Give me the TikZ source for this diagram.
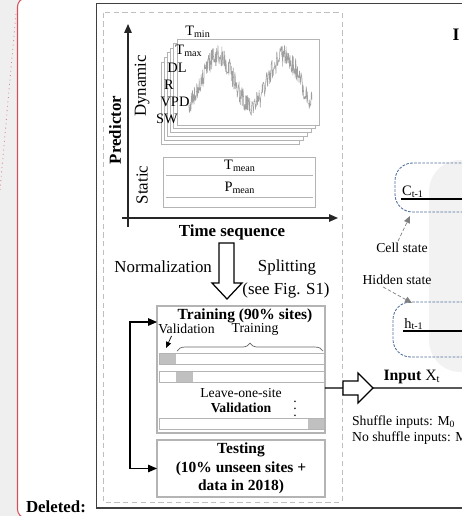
\documentclass[tikz,border=0pt]{standalone}
\usepackage{fontspec}
\setmainfont{Liberation Serif}
\usepackage{tikz}
\usetikzlibrary{arrows.meta,calc,decorations.pathreplacing}
\definecolor{framegray}{HTML}{B4B4B4}
\definecolor{blockgray}{HTML}{C0C0C0}
\definecolor{pagegray}{HTML}{EFEFEF}
\definecolor{balloonred}{HTML}{D2505A}
\definecolor{stateblue}{HTML}{50709F}
\definecolor{panegray}{HTML}{F2F2F2}
\tikzset{
>={Triangle[length=5pt,width=4.2pt]},
big text/.style={font=\fontsize{9.6}{11.5}\selectfont,inner sep=1pt},
bold text/.style={font=\fontsize{9.6}{11.5}\selectfont\bfseries,inner sep=1pt},
box text/.style={font=\fontsize{8.8}{10.5}\selectfont\bfseries,inner sep=1pt},
small text/.style={font=\fontsize{7.8}{9}\selectfont,inner sep=1pt},
var text/.style={font=\fontsize{8.2}{9}\selectfont,inner sep=0.5pt},
main box/.style={draw=framegray,line width=0.6pt,inner sep=0pt,outer sep=0pt},
series frame/.style={draw=framegray,fill=white,line width=0.5pt},
site bar/.style={draw=framegray,line width=0.5pt},
freccia/.style={->,line width=0.6pt},
asse/.style={->,line width=0.7pt,draw=black!85},
hint/.style={->,dash pattern=on 2pt off 1.2pt,draw=gray,line width=0.4pt,>={Triangle[length=4pt,width=3.5pt]}},
hollow/.style={draw=black,fill=white,line width=0.7pt,line join=miter},
state box/.style={draw=stateblue,dash pattern=on 1.5pt off 0.8pt,line width=0.5pt,rounded corners=10pt,inner sep=0pt,outer sep=0pt}}

\begin{document}
\begin{tikzpicture}[x=0.02cm,y=-0.02cm]

\useasboundingbox (0,0) rectangle (462,516);
\clip (0,0) rectangle (462,516);
\coordinate (xin) at (470,388);

% page and comment balloon
\fill[pagegray] (0,0) rectangle (462,516);
\draw[balloonred,fill=white,line width=0.6pt,rounded corners=5pt] (17.5,-2) rectangle (480,518);
\draw[balloonred!70,dotted,line width=0.5pt] (16,14) .. controls (9,90) .. (0,190);
\node[bold text] (deleted) at (56,507) {Deleted:};

% figure frames
\draw[black!75,line width=0.6pt] (96.7,3.3) rectangle (480,508);
\draw[gray!50,dash pattern=on 3pt off 2pt,line width=0.5pt] (103,12.7) rectangle (342,502);

% dynamic predictors
\foreach \k in {5,4,...,0}
  \draw[series frame] ({177-3.2*\k},{39+4.6*\k}) rectangle ({319-4*\k},{125+3.8*\k});
\pgfmathsetseed{11}
\draw[gray!75,line width=0.3pt,line join=round] plot[domain=187:312,samples=320] (\x,{81-25*sin(5.4545*(\x-201.5))+11*rand});

\node[var text] (tmin) at (198,32) {T\textsubscript{min}};
\node[var text] (tmax) at (189,51) {T\textsubscript{max}};
\node[var text] (dl) at (177,68) {DL};
\node[var text] (r) at (169,85) {R};
\node[var text] (vpd) at (175,102) {VPD};
\node[var text] (sw) at (167,119) {SW};

% static predictors
\draw[series frame] (163,157) rectangle (315,207);
\draw[framegray,line width=0.5pt] (166,175) -- (313,175) (166,197) -- (313,197);
\node[var text] (tmean) at (240,166) {T\textsubscript{mean}};
\node[var text] (pmean) at (240,188) {P\textsubscript{mean}};

% axes
\draw[asse] (128,227) -- (128,24);
\draw[asse] (122,218) -- (338,218);
\node[bold text,rotate=90] (predictor) at (115,130) {Predictor};
\node[big text,rotate=90] (dynamic) at (142,86) {Dynamic};
\node[big text,rotate=90] (static) at (142,185) {Static};
\node[bold text] (timeseq) at (232,232) {Time sequence};

% normalization and splitting
\draw[hollow] (219,243) -- (234,243) -- (234,283) -- (242,283) -- (227,299) -- (212,283) -- (219,283) -- cycle;
\node[big text,anchor=east] (norm) at (214,267) {Normalization};
\node[big text] (split) at (287,267) {Splitting};
\node[big text] (seefig) at (286,290) {(see Fig. S1)};

% training
\node[main box,minimum width=3.36cm,minimum height=2.54cm] (train) at (241,369.5) {};
\node[box text] (traintitle) at (245,316) {Training (90\% sites)};
\node[small text] (valid) at (186.5,329) {Validation};
\node[small text] (trainpart) at (255,329) {Training};
\draw[->,line width=0.4pt,>={Triangle[length=3.5pt,width=3pt]}] ([xshift=-0.3cm]valid.south) -- (166,348);
\draw[decorate,decoration={brace,amplitude=4.5pt},gray!80!black,line width=0.4pt] (177,351) -- (323,351);
\foreach \y/\a/\b in {353/159/176,371/176/193,418/308/324}{
  \fill[blockgray] (\a,\y) rectangle (\b,{\y+11});
  \draw[site bar] (159,\y) rectangle (324,{\y+11});
}
\node[small text] (leave) at (241,393) {Leave-one-site};
\node[small text] (loo) at (241,408) {\textbf{Validation}};
\node[small text,inner sep=0pt] (dots) at (295,404) {$\vdots$};

% testing
\node[main box,box text,inner sep=0pt,minimum width=3.36cm,minimum height=1.14cm,align=center] (test) at (241,468.5) {Testing\\(10\% unseen sites +\\data in 2018)};
\draw[freccia,<->] ([yshift=0.95cm]train.west) -- ++(-27,0) |- (test.west);

% cell
\fill[panegray,rounded corners=18pt] (429,160) rectangle (500,372);
\node[state box,anchor=west,minimum width=2cm,minimum height=0.98cm] (cbox) at (395,187.5) {};
\node[state box,anchor=west,minimum width=2cm,minimum height=1.1cm] (hbox) at (393,329.5) {};
\node[var text] (cprev) at (413,192) {C\textsubscript{t-1}};
\node[var text] (hprev) at (414,324) {h\textsubscript{t-1}};
\draw[line width=0.8pt] (cprev.south west) -- (cprev.south west -| xin);
\draw[line width=0.8pt] (hprev.south west) -- (hprev.south west -| xin);
\node[small text] (cell) at (402,248) {Cell state};
\node[small text] (hidden) at (397,280) {Hidden state};
\draw[hint] ([xshift=-0.08cm]cell.north) -- ([xshift=0.3cm,yshift=-0.08cm]cbox.south west);
\draw[hint] ([xshift=-0.28cm]hidden.south) -- ([xshift=0.38cm,yshift=-0.02cm]hbox.north west);
\node[bold text,font=\fontsize{10}{12}\selectfont\bfseries] (title) at (456,35) {I};

% input
\draw[line width=0.7pt] ([yshift=-0.37cm]train.east) -- (xin);
\draw[hollow] (343,381) -- (358,381) -- (358,373) -- (373,388) -- (358,403) -- (358,395) -- (343,395) -- cycle;
\node[big text,font=\fontsize{9}{11}\selectfont] (input) at (412,377) {\textbf{Input} X\textsubscript{t}};
\node[small text,anchor=west] (shuf) at (350,422) {Shuffle inputs: M\textsubscript{0}};
\node[small text,anchor=west] (noshuf) at (350,438) {No shuffle inputs: M};

\end{tikzpicture}
\end{document}
